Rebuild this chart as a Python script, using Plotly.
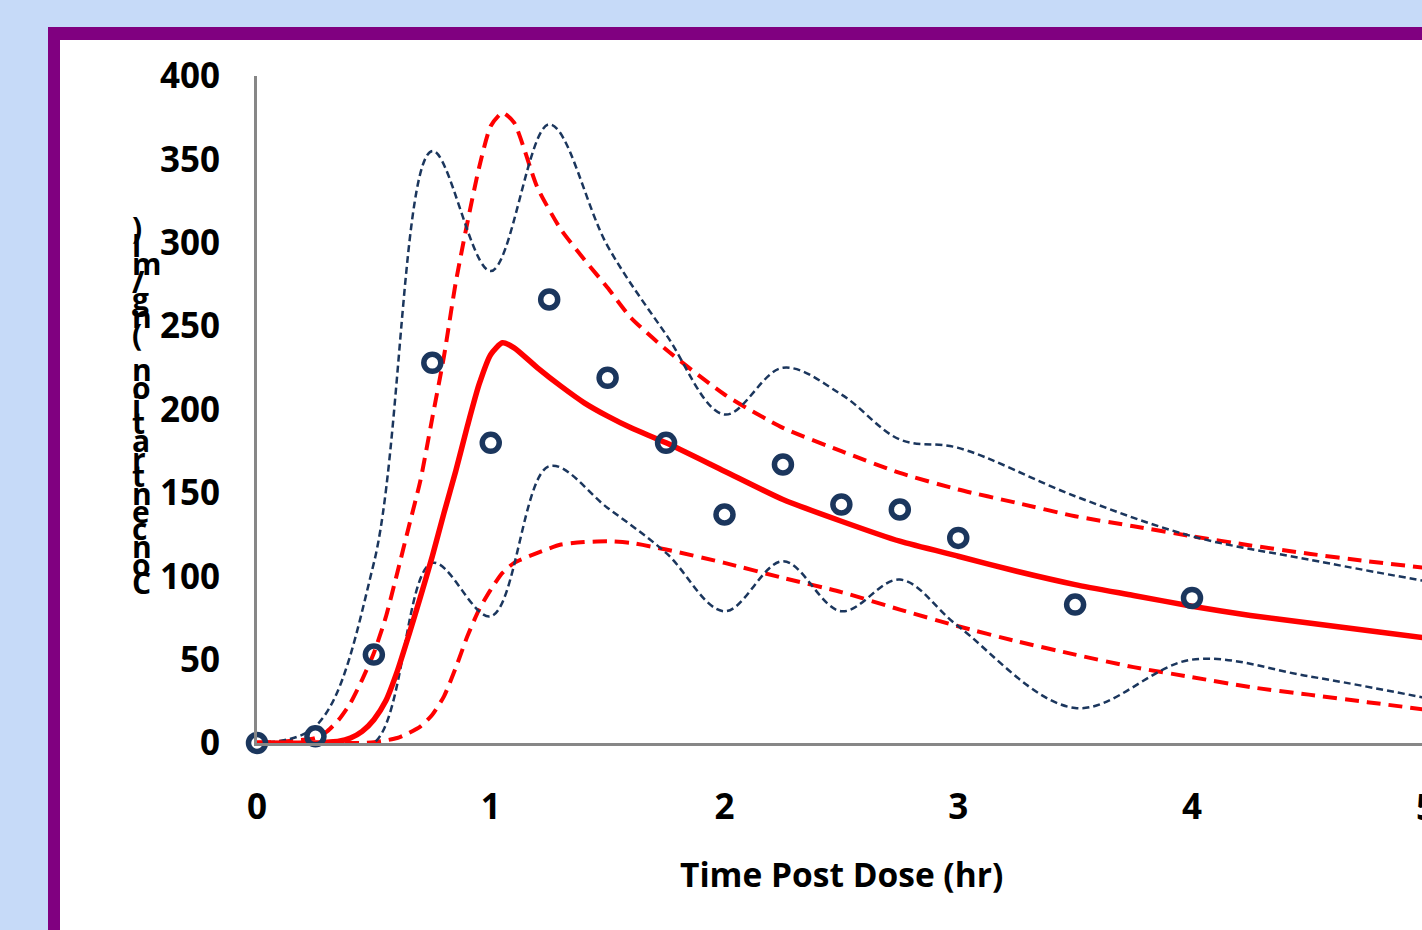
import plotly.graph_objects as go

# ---------------- data ----------------
obs_t = [0, 0.25, 0.5, 0.75, 1.0, 1.25, 1.5, 1.75, 2.0, 2.25, 2.5, 2.75, 3.0, 3.5, 4.0, 5.0]
obs_c = [0, 4, 53, 228, 180, 266, 219, 180, 137, 167, 143, 140, 123, 83, 87, 63]

pct_t = [0, 0.25, 0.5, 0.75, 1.0, 1.25, 1.5, 1.75, 2.0, 2.25, 2.5, 2.75, 3.0, 3.5, 4.0, 4.5, 5.0]
obs_p95 = [0, 10, 108, 355, 283, 371, 298, 245, 197, 225, 209, 182, 177, 148, 124, 110, 97]
obs_p05 = [0, 0, 0, 108, 76, 166, 141, 114, 79, 109, 79, 98, 70, 21, 50, 40, 27]

pred_t = [0, 0.25, 0.3, 0.35, 0.4, 0.45, 0.5, 0.55, 0.6, 0.65, 0.7, 0.75, 0.8, 0.85, 0.9,
          0.95, 1.0, 1.05, 1.1, 1.2, 1.3, 1.4, 1.5, 1.6, 1.75, 2.0, 2.25, 2.5, 2.75, 3.0,
          3.25, 3.5, 3.75, 4.0, 4.25, 4.5, 4.75, 5.0]
pred_med = [0, 0, 0.5, 1, 3, 7, 14, 25, 43, 65, 88, 112, 138, 163, 190,
            215, 233, 240, 237, 225, 214, 204, 196, 189, 180, 163, 146, 133, 121, 112,
            103, 95, 88.5, 82, 76.5, 72, 67.5, 63]
pred_p95 = [0, 3, 7, 14, 24, 38, 54, 75, 102, 130, 158, 195, 232, 276, 312,
            345, 370, 378, 372, 333, 308, 290, 273, 255, 236, 209, 189, 175, 162, 152,
            144, 136, 130, 124, 118.5, 113.5, 109, 105]
pred_p05 = [0, 0, 0, 0, 0, 0, 0.5, 1.5, 3, 6, 10, 17, 28, 45, 64,
            80, 92, 102, 108, 114, 119, 120.5, 121, 120, 116, 108, 99, 90.5, 80, 70,
            61, 53, 45.5, 39.5, 33.5, 29, 24.5, 20]

x_ticks = [0, 1, 2, 3, 4, 5]
y_ticks = [0, 50, 100, 150, 200, 250, 300, 350, 400]
x_title = "Time Post Dose (hr)"
y_title = "Concentration (ng/ml)"

# ---------------- layout geometry ----------------
W, H = 1422, 930
PL, PR, PT, PB = 257, 1422, 76, 743   # plot area in pixels
X_UNIT = 233.75                         # pixels per hour
XMAX = (PR - PL) / X_UNIT

def px(x):
    return (x - PL) / (PR - PL)

def py(y):
    return (PB - y) / (PB - PT)

NAVY = "#1B365D"
RED = "#FF0000"
FONT = "Open Sans"

fig = go.Figure()

fig.add_trace(go.Scatter(x=pred_t, y=pred_p95, mode="lines", line=dict(color=RED, width=4, dash="14px,8px", shape="spline", smoothing=0.6), cliponaxis=False))
fig.add_trace(go.Scatter(x=pred_t, y=pred_p05, mode="lines", line=dict(color=RED, width=4, dash="14px,8px", shape="spline", smoothing=0.6), cliponaxis=False))
fig.add_trace(go.Scatter(x=pct_t, y=obs_p95, mode="lines", line=dict(color=NAVY, width=2.5, dash="7px,4px", shape="spline", smoothing=1.0), cliponaxis=False))
fig.add_trace(go.Scatter(x=pct_t, y=obs_p05, mode="lines", line=dict(color=NAVY, width=2.5, dash="7px,4px", shape="spline", smoothing=1.0), cliponaxis=False))
fig.add_trace(go.Scatter(x=pred_t, y=pred_med, mode="lines", line=dict(color=RED, width=5.5, shape="spline", smoothing=0.6), cliponaxis=False))
fig.add_trace(go.Scatter(x=obs_t, y=obs_c, mode="markers", cliponaxis=False,
                         marker=dict(symbol="circle-open", size=17, color=NAVY, line=dict(width=5.5, color=NAVY))))

shapes = [
    dict(type="rect", xref="paper", yref="paper", x0=px(48), x1=px(1460), y0=py(27), y1=py(960),
         fillcolor="#800080", line=dict(width=0), layer="below"),
    dict(type="rect", xref="paper", yref="paper", x0=px(60), x1=px(1460), y0=py(40), y1=py(960),
         fillcolor="#FFFFFF", line=dict(width=0), layer="below"),
]

annotations = []
# x-axis title
annotations.append(dict(text=x_title, xref="paper", yref="paper", x=px(841), y=py(874),
                        xanchor="center", yanchor="middle", showarrow=False,
                        font=dict(family=FONT, size=33.5, color="black", weight="bold")))
# last x tick label (sits just past the visible range)
annotations.append(dict(text=str(x_ticks[-1]), xref="paper", yref="paper", x=x_ticks[-1] / XMAX, y=py(806),
                        xanchor="center", yanchor="middle", showarrow=False,
                        font=dict(family=FONT, size=35, color="black", weight="bold")))
# stacked y title: characters reversed, upright, top to bottom
chars = list(reversed(y_title))
top_c, bot_c = 228, 582
step = (bot_c - top_c) / (len(chars) - 1)
for i, ch in enumerate(chars):
    if ch == " ":
        continue
    annotations.append(dict(text=ch, xref="paper", yref="paper", x=px(130), y=py(top_c + i * step),
                            xanchor="left", yanchor="middle", showarrow=False,
                            font=dict(family=FONT, size=30, color="black", weight="bold")))

fig.update_layout(
    width=W, height=H,
    margin=dict(l=PL, r=W - PR, t=PT, b=H - PB, pad=0),
    paper_bgcolor="#C6DAF8",
    plot_bgcolor="#FFFFFF",
    showlegend=False,
    shapes=shapes,
    annotations=annotations,
    xaxis=dict(range=[0, XMAX], tickvals=x_ticks, showgrid=False, zeroline=False,
               showline=True, linecolor="#878787", linewidth=3, ticks="",
               ticklabelstandoff=31,
               tickfont=dict(family=FONT, size=35, color="black", weight="bold")),
    yaxis=dict(range=[0, 400], tickvals=y_ticks, showgrid=False, zeroline=False,
               showline=True, linecolor="#878787", linewidth=3, ticks="",
               ticklabelstandoff=27,
               tickfont=dict(family=FONT, size=35, color="black", weight="bold")),
)

fig.write_html("out.html", config={"displayModeBar": False},
               post_script="document.body.style.margin='0px';document.body.style.overflow='hidden';")
